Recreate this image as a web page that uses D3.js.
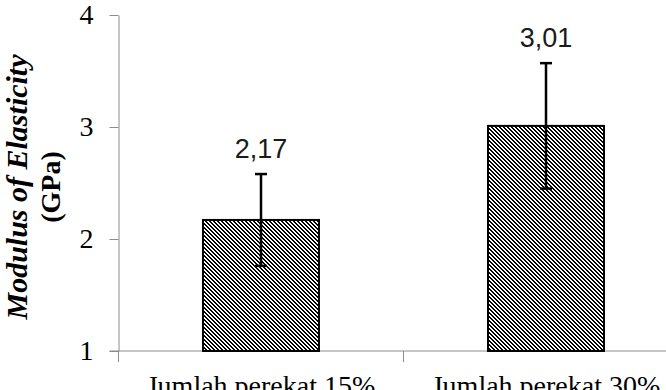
<!DOCTYPE html>
<html>
<head>
<meta charset="utf-8">
<script src="https://cdn.jsdelivr.net/npm/d3@7"></script>
<style>
body { margin:0; background:#fff; }
svg { display:block; }
</style>
</head>
<body>
<div id="my_viz"></div>
<script>
const width = 666
const height = 390
const margin = {top:15, left:118.5, bottom:39}

// data
const categories = ["Jumlah perekat 15%", "Jumlah perekat 30%"]
const values = [2.17, 3.01]
const errors = [0.41, 0.56]
const value_labels = ["2,17", "3,01"]
const y_ticks = [1, 2, 3, 4]

var svg = d3.select("#my_viz")
.append("svg")
.attr("width", width)
.attr("height", height)

// hatch pattern: pixel diagonal stripes "\"
const tile = 4
var pat = svg.append("defs").append("pattern")
.attr("id", "hatch")
.attr("patternUnits", "userSpaceOnUse")
.attr("width", tile)
.attr("height", tile)
pat.append("rect").attr("width", tile).attr("height", tile).attr("fill", "#fff")
d3.range(tile).forEach(r => {
	[r, (r + 1) % tile].forEach(c => {
		pat.append("rect")
		.attr("x", c).attr("y", r)
		.attr("width", 1).attr("height", 1)
		.attr("fill", "#000")
		.attr("shape-rendering", "crispEdges")
	})
})

var xScale = d3.scaleBand()
.domain(categories)
.range([margin.left, margin.left + 570])
.padding(0)

var yScale = d3.scaleLinear()
.domain([1, 4])
.range([height - margin.bottom, margin.top])

const axis_color = "#8c8c8c"
const y0 = yScale(1)

// Y axis
var yAxisG = svg.append("g")
.attr("transform", "translate(" + margin.left + ",0)")
.call(d3.axisLeft(yScale).tickValues(y_ticks).tickSize(9).tickSizeOuter(0).tickPadding(16).tickFormat(d3.format("d")))
yAxisG.select(".domain").attr("stroke", axis_color)
yAxisG.selectAll(".tick line").attr("stroke", axis_color)
yAxisG.selectAll(".tick text")
.attr("fill", "#000")
.style("font-family", "'Liberation Serif', 'Times New Roman', serif")
.style("font-size", "28px")

// X axis (line + boundary ticks, labels centred under bars)
svg.append("line")
.attr("x1", margin.left - 9).attr("x2", width)
.attr("y1", y0).attr("y2", y0)
.attr("stroke", axis_color)
categories.forEach(c => {
	svg.append("line")
	.attr("x1", xScale(c)).attr("x2", xScale(c))
	.attr("y1", y0).attr("y2", y0 + 11)
	.attr("stroke", axis_color)
})
svg.selectAll(".cat-label")
.data(categories)
.enter()
.append("text")
.attr("class", "cat-label")
.attr("x", d => xScale(d) + xScale.bandwidth() / 2)
.attr("y", y0 + 44)
.attr("text-anchor", "middle")
.style("font-family", "'Liberation Serif', 'Times New Roman', serif")
.style("font-size", "28px")
.attr("fill", "#000")
.text(d => d)

// bars
const bar_w = 116
svg.selectAll(".bar")
.data(values)
.enter()
.append("rect")
.attr("class", "bar")
.attr("x", (d, i) => Math.round(xScale(categories[i]) + xScale.bandwidth() / 2 - bar_w / 2))
.attr("y", d => yScale(d))
.attr("width", bar_w)
.attr("height", d => y0 - yScale(d))
.attr("fill", "url(#hatch)")
.attr("stroke", "#000")
.attr("stroke-width", 2)

// error bars
const cap = 6
values.forEach((v, i) => {
	const cx = xScale(categories[i]) + xScale.bandwidth() / 2
	const g = svg.append("g").attr("stroke", "#000").attr("stroke-width", 2.5)
	g.append("line").attr("x1", cx).attr("x2", cx)
	.attr("y1", yScale(v + errors[i])).attr("y2", yScale(v - errors[i]))
	g.append("line").attr("x1", cx - cap).attr("x2", cx + cap)
	.attr("y1", yScale(v + errors[i])).attr("y2", yScale(v + errors[i]))
	g.append("line").attr("x1", cx - cap).attr("x2", cx + cap)
	.attr("y1", yScale(v - errors[i])).attr("y2", yScale(v - errors[i]))
	svg.append("text")
	.attr("x", cx)
	.attr("y", yScale(v + errors[i]) - 16)
	.attr("text-anchor", "middle")
	.style("font-family", "'Liberation Sans', Arial, sans-serif")
	.style("font-size", "27px")
	.attr("fill", "#1a1a1a")
	.text(value_labels[i])
})

// Y axis title
var title = svg.append("text")
.attr("transform", "translate(27," + 187 + ") rotate(-90)")
.attr("text-anchor", "middle")
.style("font-family", "'Liberation Serif', 'Times New Roman', serif")
.style("font-weight", "bold")
.attr("fill", "#000")
title.append("tspan")
.attr("x", 0).attr("y", 0)
.style("font-style", "italic")
.style("font-size", "30px")
.text("Modulus of Elasticity")
title.append("tspan")
.attr("x", 0).attr("y", 33)
.style("font-size", "28px")
.text("(GPa)")
</script>
</body>
</html>
